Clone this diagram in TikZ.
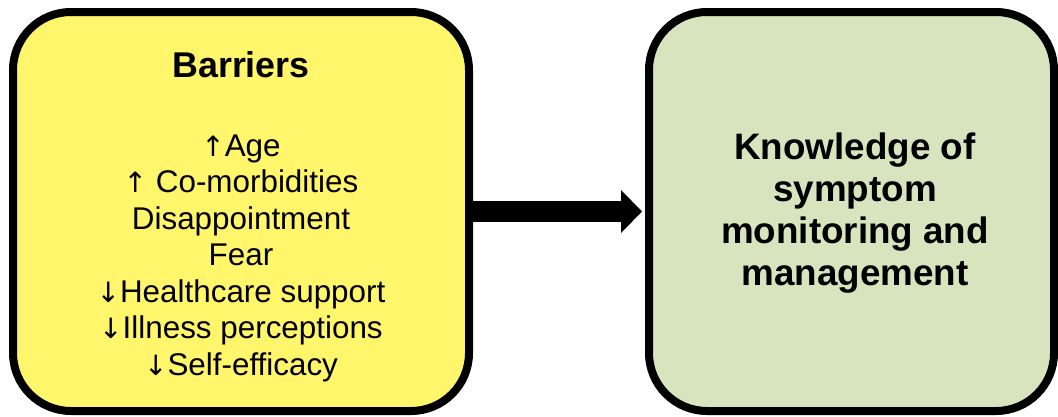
\documentclass[tikz,border=0pt]{standalone}
\usepackage{fontspec}
\setmainfont{Liberation Sans}
\newfontfamily\arrowfont{DejaVu Sans}
\usepackage{xcolor}
\usepackage{tikz}
\usetikzlibrary{arrows.meta,positioning}

\definecolor{barrieryellow}{HTML}{FFF66B}
\definecolor{knowgreen}{HTML}{D7E4BD}

\newcommand{\upar}{{\arrowfont\fontsize{28}{36.5}\selectfont ↑}}
\newcommand{\downar}{{\arrowfont\fontsize{28}{36.5}\selectfont ↓}}

\begin{document}
\begin{tikzpicture}[
    x=1pt, y=-1pt,
    panel/.style={rectangle, draw, line width=8pt, rounded corners=58pt, minimum height=399pt, inner sep=0pt},
    headtext/.style={font=\fontsize{35.8}{40}\selectfont\bfseries, inner sep=0pt},
    listtext/.style={font=\fontsize{31.4}{36.5}\selectfont, align=center, inner sep=0pt},
    flow/.style={-{Triangle[length=21pt,width=43pt,line width=0pt]}, line width=21pt, shorten >=3pt}
]
    \useasboundingbox (0,0) rectangle (1058,416);

    \node[panel, fill=barrieryellow, minimum width=456pt] (barriers) at (241,211.5) {};
    \node[panel, fill=knowgreen, minimum width=405pt] (knowledge) at (851.5,211.5) {};

    \node[headtext, anchor=base] (barriershead) at (241,77.3) {Barriers};
    \node[listtext, anchor=center] (barrierslist) at (241,258) {\upar Age\\
        \upar\ Co-morbidities\\
        Disappointment\\
        Fear\\
        \downar Healthcare support\\
        \downar Illness perceptions\\
        \downar Self-efficacy};

    \node[listtext, font=\fontsize{36.8}{42}\selectfont\bfseries] (knowledgetext) at (855,213) {Knowledge of\\
        symptom\\
        monitoring and\\
        management};

    \draw[flow] (barriers) -- (knowledge);
\end{tikzpicture}
\end{document}
